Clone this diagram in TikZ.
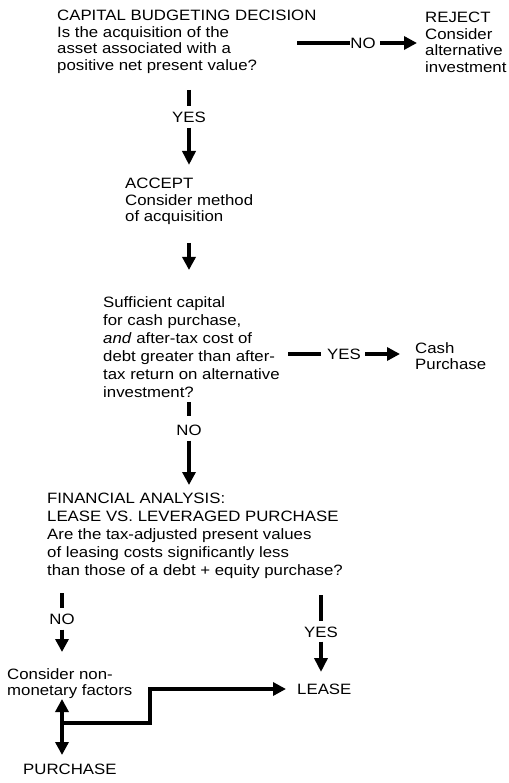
\documentclass[tikz,border=0pt]{standalone}
\usepackage{fontspec}
\setmainfont{Liberation Sans}[FakeStretch=1.12]
\usetikzlibrary{arrows.meta}
\begin{document}
\begin{tikzpicture}[x=1pt,y=-1pt,
  txt/.style={inner sep=0pt, anchor=north west, align=left, font=\fontsize{15}{16.5}\selectfont},
  txtw/.style={txt, font=\fontsize{15}{18}\selectfont},
  lab/.style={inner sep=0pt, font=\fontsize{15}{16.5}\selectfont},
  conn/.style={line width=4.5pt},
  arr/.style={conn, -{Triangle[length=13pt,width=13pt]}},
  arrv/.style={conn, -{Triangle[length=14pt,width=13pt]}},
  darr/.style={conn, {Triangle[length=13pt,width=13pt]}-{Triangle[length=13pt,width=13pt]}},
]
\useasboundingbox (0,0) rectangle (508,783);
% text blocks
\node[txt] (q1) at (57,10) {CAPITAL BUDGETING DECISION\\Is the acquisition of the\\asset associated with a\\positive net present value?};
\node[txt] (reject) at (425,12) {REJECT\\Consider\\alternative\\investment};
\node[txt] (accept) at (125,178) {ACCEPT\\Consider method\\of acquisition};
\node[txtw] (q2) at (103,296) {Sufficient capital\\for cash purchase,\\\textit{and} after-tax cost of\\debt greater than after-\\tax return on alternative\\investment?};
\node[txt] (cash) at (415,342) {Cash\\Purchase};
\node[txtw] (fa) at (47,493) {FINANCIAL ANALYSIS:\\LEASE VS. LEVERAGED PURCHASE\\Are the tax-adjusted present values\\of leasing costs significantly less\\than those of a debt + equity purchase?};
\node[txt] (nonmon) at (7,668) {Consider non-\\monetary factors};
\node[txt] (lease) at (297,684) {LEASE};
\node[txt] (purchase) at (23,764) {PURCHASE};
% labels
\node[lab] (no1) at (363,43) {NO};
\node[lab] (yes1) at (189,117) {YES};
\node[lab] (yes2) at (344,354) {YES};
\node[lab] (no2) at (189,430) {NO};
\node[lab] (no3) at (62,619) {NO};
\node[lab] (yes3) at (321,632) {YES};
% coordinates of connector ends
\coordinate (a1s) at (297,43);
\coordinate (a1e) at (417,43);
\coordinate (b1s) at (189,90);
\coordinate (b1e) at (189,165);
\coordinate (c1s) at (189,243);
\coordinate (c1e) at (189,270);
\coordinate (d1s) at (288,354);
\coordinate (d1e) at (400,354);
\coordinate (e1s) at (189,402);
\coordinate (e1e) at (189,485);
\coordinate (f1s) at (62,593);
\coordinate (f1e) at (62,652);
\coordinate (g1s) at (321,595);
\coordinate (g1e) at (321,672);
\coordinate (h1t) at (62,699);
\coordinate (h1b) at (62,755);
\coordinate (h1j) at (62,723);
\coordinate (h1e) at (286,689);
% connectors
\draw[conn] (a1s) -- (no1.west);
\draw[arr, shorten <=4pt] (no1.east) -- (a1e);
\draw[conn, shorten >=5pt] (b1s) -- (yes1.north);
\draw[arrv, shorten <=5pt] (yes1.south) -- (b1e);
\draw[arr] (c1s) -- (c1e);
\draw[conn, shorten >=6pt] (d1s) -- (yes2.west);
\draw[arr, shorten <=4pt] (yes2.east) -- (d1e);
\draw[conn, shorten >=8pt] (e1s) -- (no2.north);
\draw[arr, shorten <=5pt] (no2.south) -- (e1e);
\draw[conn, shorten >=5pt] (f1s) -- (no3.north);
\draw[arr, shorten <=5pt] (no3.south) -- (f1e);
\draw[conn, shorten >=5pt] (g1s) -- (yes3.north);
\draw[arrv, shorten <=4pt] (yes3.south) -- (g1e);
\draw[darr] (h1t) -- (h1b);
\draw[arr] (h1j) -- (150,723) -- (150,689) -- (h1e);
\end{tikzpicture}
\end{document}
